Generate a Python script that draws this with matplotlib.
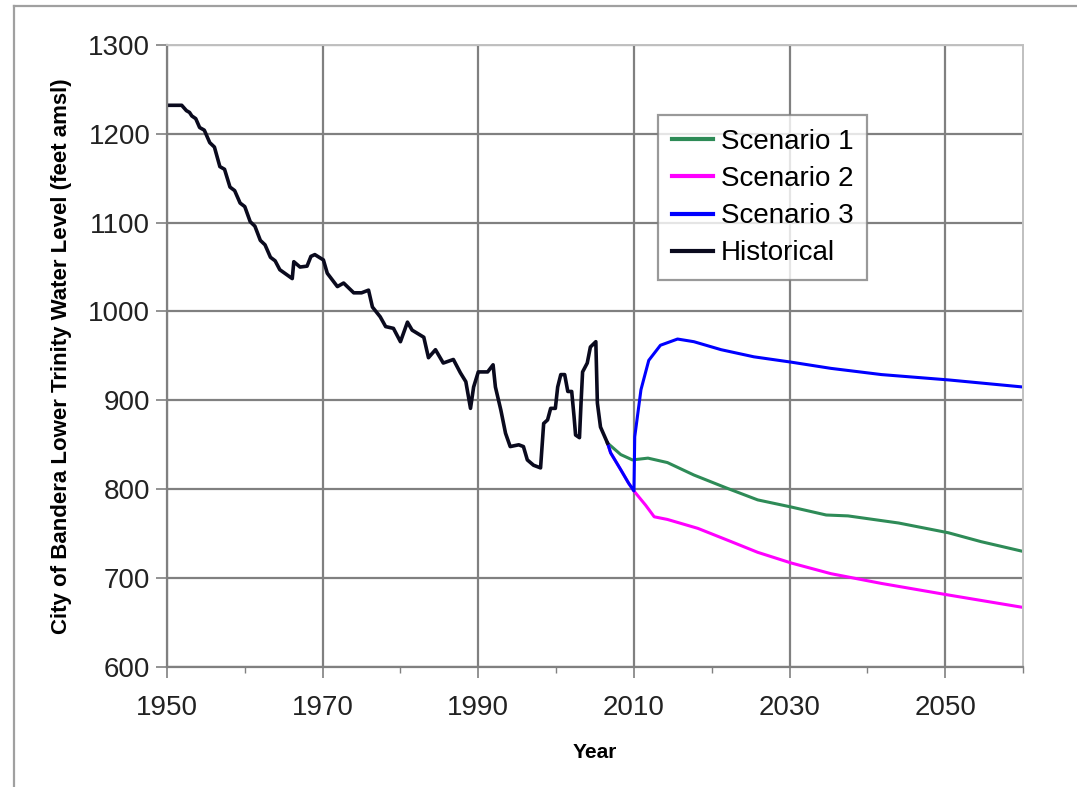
import numpy as np
import matplotlib
matplotlib.use("Agg")
import matplotlib.pyplot as plt
from matplotlib.lines import Line2D

plt.rcParams["font.family"] = ["Liberation Sans", "DejaVu Sans"]

# historical water level
hist_year = [1950, 1951.9, 1952.5, 1952.9, 1953.2, 1953.7, 1954.2, 1954.8, 1955.5,
             1956.1, 1956.8, 1957.4, 1958.1, 1958.7, 1959.4, 1960.0, 1960.7,
             1961.3, 1962, 1962.6, 1963.3, 1963.9, 1964.5, 1966.1, 1966.3, 1967.1,
             1968, 1968.5,
             1969, 1970.1, 1970.6, 1971.9, 1972.7, 1974, 1975, 1975.9, 1976.4,
             1977.4, 1978.1, 1979.1, 1980, 1980.9, 1981.5, 1983, 1983.6, 1984.5,
             1985.5, 1986.8, 1987.7, 1988.4, 1989, 1989.4, 1990, 1991.2, 1991.9,
             1992.2, 1992.9, 1993.5, 1994.1, 1995.2, 1995.8, 1996.3, 1997.1, 1998,
             1998.4, 1998.9, 1999.3, 1999.9, 2000.2, 2000.6, 2001.1, 2001.5, 2002,
             2002.3, 2002.5, 2003, 2003.2, 2003.4, 2004, 2004.4, 2005.1, 2005.3,
             2005.7, 2006.6]
hist_level = [1232, 1232, 1226, 1224, 1220, 1217, 1207, 1204, 1190,
              1185, 1163, 1160, 1140, 1136, 1122, 1118, 1101,
              1096, 1080, 1075, 1061, 1057, 1047, 1037, 1056, 1050,
              1051, 1062,
              1064, 1058, 1043, 1028, 1032, 1021, 1021, 1024, 1005,
              994, 983, 981, 966, 988, 979, 971, 948, 957,
              942, 946, 931, 921, 891, 915, 932, 932, 940,
              915, 889, 863, 848, 850, 848, 833, 827, 824,
              874, 878, 891, 891, 915, 929, 929, 910, 910,
              882, 861, 858, 897, 932, 942, 960, 966, 897,
              870, 852]

s1_year = [2006.6, 2008.3, 2009.8, 2011.8, 2014.3, 2017.7, 2022, 2025.9, 2030.2,
           2034.7, 2037.5, 2044, 2050.4, 2054.6, 2060]
s1_level = [852, 839, 833, 835, 830, 816, 801, 788, 780, 771, 770, 762, 751, 741, 730]

s2_year = [2006.6, 2007, 2008.3, 2009.3, 2010, 2011.5, 2012.6, 2014.3, 2018.2,
           2022.5, 2025.9, 2030.2, 2035.3, 2041.8, 2050.4, 2060]
s2_level = [852, 841, 822, 807, 798, 782, 769, 766, 756, 741, 729, 717, 705, 694, 681, 667]

s3_year = [2006.6, 2007, 2008.3, 2009.3, 2010, 2010.1, 2010.9, 2011.9, 2013.4,
           2015.6, 2017.7, 2021.2, 2025.4, 2030.2, 2035.3, 2041.8, 2050.4, 2060]
s3_level = [852, 841, 822, 807, 798, 859, 912, 945, 962, 969, 966, 957, 949, 943,
            936, 929, 923, 915]

major_years = [1950, 1970, 1990, 2010, 2030, 2050]
minor_years = [1960, 1980, 2000, 2020, 2040, 2060]
level_ticks = [600, 700, 800, 900, 1000, 1100, 1200, 1300]

fig = plt.figure(figsize=(10.77, 7.87), dpi=100)
ax = fig.add_axes([0.155, 0.1525, 0.795, 0.7905])

ax.plot(s1_year, s1_level, color="#2e8b57", lw=2.2, label="Scenario 1")
ax.plot(s2_year, s2_level, color="#ff00ff", lw=2.2, label="Scenario 2")
ax.plot(s3_year, s3_level, color="#0000ff", lw=2.2, label="Scenario 3")
ax.plot(hist_year, hist_level, color="#0a0a1e", lw=2.6, label="Historical")

ax.set_xlim(1950, 2060)
ax.set_ylim(600, 1300)
ax.set_xticks(major_years)
ax.set_xticks(minor_years, minor=True)
ax.set_yticks(level_ticks)
ax.grid(True, which="major", color="#808080", lw=1.6)
ax.set_axisbelow(True)

ax.tick_params(axis="both", which="major", labelsize=20, length=8, width=1.2,
               color="#808080", labelcolor="#222222", pad=4)
ax.tick_params(axis="x", which="minor", length=4, width=1.0, color="#808080")
ax.tick_params(axis="x", which="major", pad=12)

for side in ["left", "bottom"]:
    ax.spines[side].set_color("#808080")
    ax.spines[side].set_linewidth(1.6)
for side in ["top", "right"]:
    ax.spines[side].set_color("#c0c0c0")
    ax.spines[side].set_linewidth(1.4)

ax.set_xlabel("Year", fontsize=15, fontweight="bold", labelpad=16)
ax.set_ylabel("City of Bandera Lower Trinity Water Level (feet amsl)",
              fontsize=16, fontweight="bold", labelpad=12)

leg = ax.legend(loc="upper left", bbox_to_anchor=(0.574, 0.887), fontsize=20,
                frameon=True, fancybox=False, handlelength=1.45,
                handletextpad=0.3, labelspacing=0.4, borderpad=0.5,
                borderaxespad=0)
leg.get_frame().set_edgecolor("#808080")
leg.get_frame().set_linewidth(1.6)
for h in leg.get_lines():
    h.set_linewidth(3)

# outer frame of the picture
fig.add_artist(Line2D([14 / 1077, 14 / 1077], [0, 1 - 6 / 787],
                      transform=fig.transFigure, color="#a0a0a0", lw=1.6))
fig.add_artist(Line2D([14 / 1077, 1], [1 - 6 / 787, 1 - 6 / 787],
                      transform=fig.transFigure, color="#a0a0a0", lw=1.6))

fig.savefig("out.png", dpi=100)
